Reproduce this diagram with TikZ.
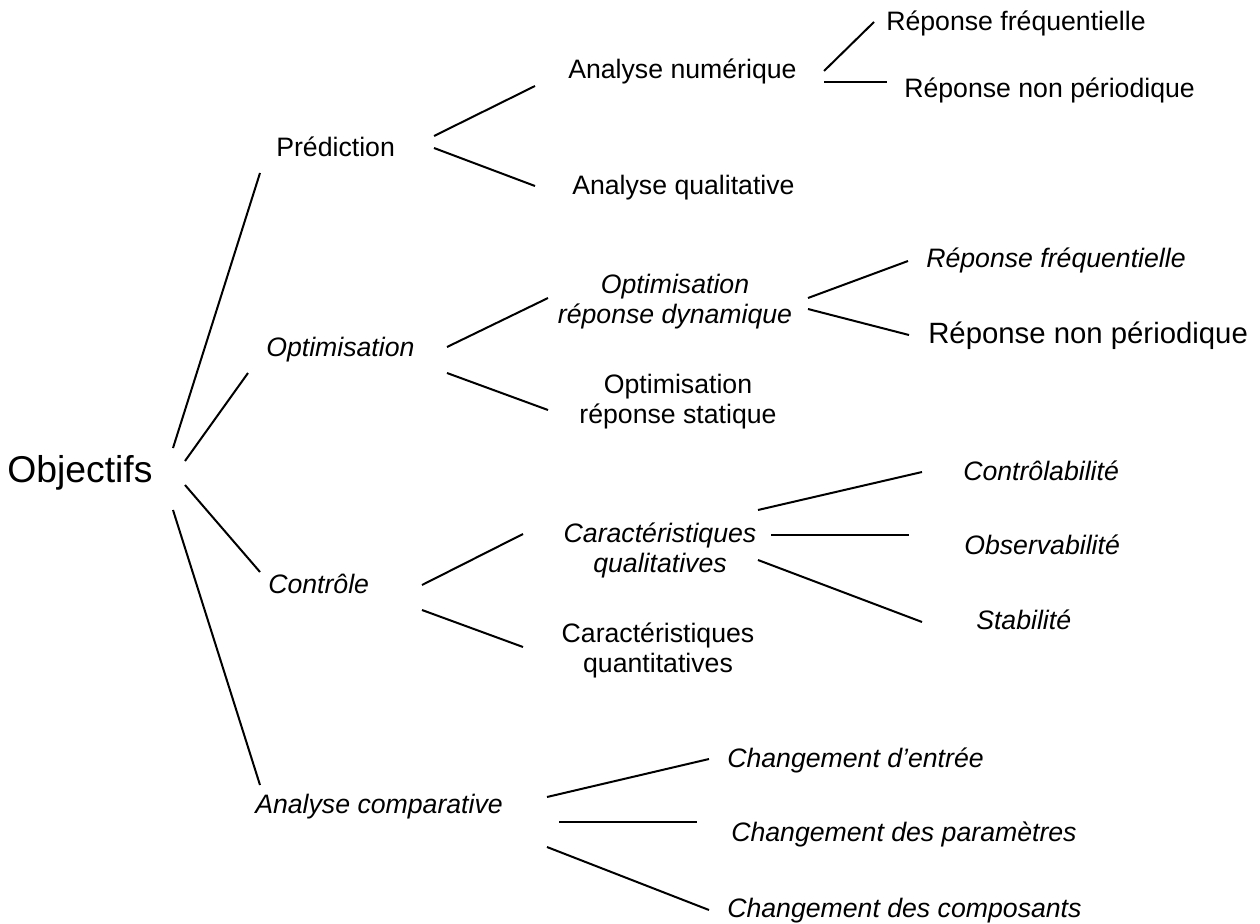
\documentclass[tikz,border=0pt]{standalone}
\usepackage{fontspec}
\setmainfont{Liberation Sans}
\begin{document}
\begin{tikzpicture}[x=0.75pt,y=-0.75pt,
  lbl/.style={inner sep=0pt, anchor=base west, font=\fontsize{20}{22.5}\selectfont},
  ilbl/.style={lbl, font=\fontsize{20}{22.5}\selectfont\itshape},
  twolbl/.style={inner sep=0pt, anchor=base, align=center, font=\fontsize{20}{22.5}\selectfont},
  itwolbl/.style={twolbl, font=\fontsize{20}{22.5}\selectfont\itshape},
  branch/.style={line width=1.5pt, line cap=butt}]
\useasboundingbox (0,0) rectangle (1260,924);

% root
\node[inner sep=0pt, anchor=base west, font=\fontsize{28}{32}\selectfont] (obj) at (7,482) {Objectifs};

% first level
\node[lbl]  (pred) at (276,156) {Prédiction};
\node[ilbl] (opt)  at (266,356) {Optimisation};
\node[ilbl] (ctrl) at (268,593) {Contrôle};
\node[ilbl] (comp) at (255,813) {Analyse comparative};

% second level (two-line labels are placed by the baseline of their last line)
\node[lbl] (anum)  at (568,79)  {Analyse numérique};
\node[lbl] (aqual) at (572,194) {Analyse qualitative};
\node[itwolbl] (odyn) at (675,323) {Optimisation\\réponse dynamique};
\node[twolbl]  (ostat) at (678,423) {Optimisation\\réponse statique};
\node[itwolbl] (cqual) at (660,572) {Caractéristiques\\qualitatives};
\node[twolbl]  (cquant) at (658,672) {Caractéristiques\\quantitatives};

% third level
\node[lbl]  (rf1) at (886,31) {Réponse fréquentielle};
\node[lbl]  (rn1) at (904,98) {Réponse non périodique};
\node[ilbl] (rf2) at (926,267) {Réponse fréquentielle};
\node[inner sep=0pt, anchor=base west, font=\fontsize{22}{26}\selectfont] (rn2) at (928,343) {Réponse non périodique};
\node[ilbl] (contr) at (963,480) {Contrôlabilité};
\node[ilbl] (obs)   at (964,554) {Observabilité};
\node[ilbl] (stab)  at (976,629) {Stabilité};
\node[ilbl] (chin)  at (727,767) {Changement d’entrée};
\node[ilbl] (chpar) at (731,841) {Changement des paramètres};
\node[ilbl] (chcom) at (727,917) {Changement des composants};

% branch end points
\coordinate (obj-a) at (173,448); \coordinate (pred-a) at (260,173);
\coordinate (obj-b) at (185,461); \coordinate (opt-a)  at (248,373);
\coordinate (obj-c) at (185,485); \coordinate (ctrl-a) at (260,572);
\coordinate (obj-d) at (173,510); \coordinate (comp-a) at (260,785);

\coordinate (pred-b) at (434,136); \coordinate (anum-a)  at (535,86);
\coordinate (pred-c) at (434,148); \coordinate (aqual-a) at (535,186);
\coordinate (anum-b) at (824,71);  \coordinate (rf1-a) at (874,22);
\coordinate (anum-c) at (824,82);  \coordinate (rn1-a) at (887,82);

\coordinate (opt-b) at (447,347); \coordinate (odyn-a)  at (548,298);
\coordinate (opt-c) at (447,373); \coordinate (ostat-a) at (548,410);
\coordinate (odyn-b) at (808,298); \coordinate (rf2-a) at (908,261);
\coordinate (odyn-c) at (808,309); \coordinate (rn2-a) at (909,335);

\coordinate (ctrl-b) at (422,585); \coordinate (cqual-a)  at (523,534);
\coordinate (ctrl-c) at (422,610); \coordinate (cquant-a) at (523,647);
\coordinate (cqual-b) at (758,510); \coordinate (contr-a) at (922,472);
\coordinate (cqual-c) at (771,535); \coordinate (obs-a)   at (909,535);
\coordinate (cqual-d) at (758,560); \coordinate (stab-a)  at (922,622);

\coordinate (comp-b) at (547,797); \coordinate (chin-a)  at (709,759);
\coordinate (comp-c) at (559,822); \coordinate (chpar-a) at (697,822);
\coordinate (comp-d) at (547,847); \coordinate (chcom-a) at (709,910);

% branches
\draw[branch] (obj-a) -- (pred-a);
\draw[branch] (obj-b) -- (opt-a);
\draw[branch] (obj-c) -- (ctrl-a);
\draw[branch] (obj-d) -- (comp-a);
\draw[branch] (pred-b) -- (anum-a);
\draw[branch] (pred-c) -- (aqual-a);
\draw[branch] (anum-b) -- (rf1-a);
\draw[branch] (anum-c) -- (rn1-a);
\draw[branch] (opt-b) -- (odyn-a);
\draw[branch] (opt-c) -- (ostat-a);
\draw[branch] (odyn-b) -- (rf2-a);
\draw[branch] (odyn-c) -- (rn2-a);
\draw[branch] (ctrl-b) -- (cqual-a);
\draw[branch] (ctrl-c) -- (cquant-a);
\draw[branch] (cqual-b) -- (contr-a);
\draw[branch] (cqual-c) -- (obs-a);
\draw[branch] (cqual-d) -- (stab-a);
\draw[branch] (comp-b) -- (chin-a);
\draw[branch] (comp-c) -- (chpar-a);
\draw[branch] (comp-d) -- (chcom-a);
\end{tikzpicture}
\end{document}
